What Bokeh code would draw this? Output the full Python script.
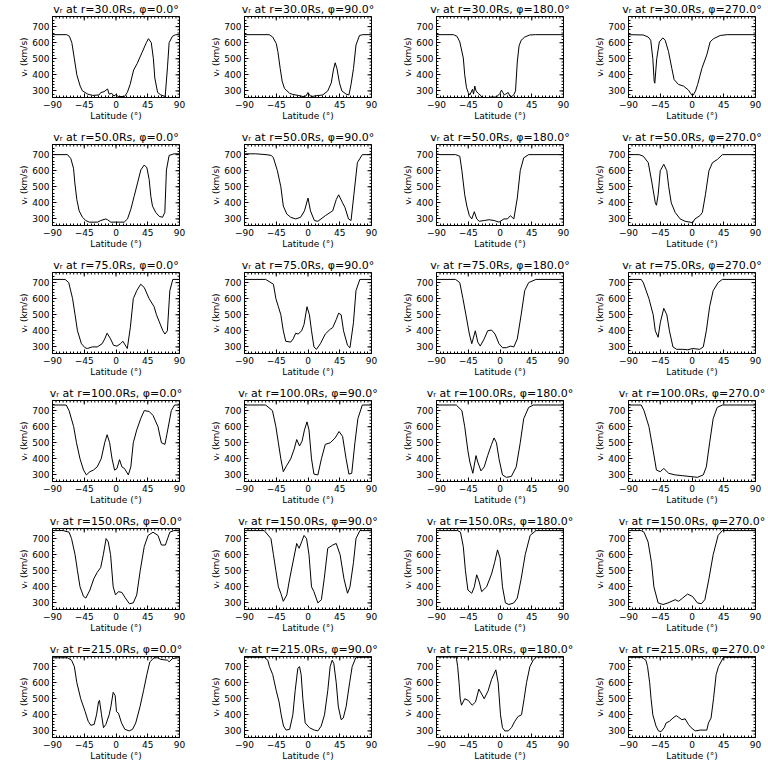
import math
from bokeh.plotting import figure
from bokeh.layouts import gridplot
from bokeh.models import Range1d, FixedTicker
from bokeh.embed import file_html
from bokeh.resources import INLINE

RADII = [30.0, 50.0, 75.0, 100.0, 150.0, 215.0]
PHIS = [0.0, 90.0, 180.0, 270.0]
X_TICKS = [-90, -45, 0, 45, 90]
X_MINOR = list(range(-90, 91, 5))
Y_TICKS = [300, 400, 500, 600, 700]
Y_MINOR = list(range(260, 761, 20))
X_LABEL = "Latitude (°)"
Y_LABEL = "vᵣ (km/s)"

# r = 30 Rs
lat_30_0 = [-90, -70, -66, -62.6, -59, -55.5, -50.8, -47.5, -40, -33, -24, -21.5, -17, -12, -9.7, -6, -3, 0, 3, 12, 16, 20, 25, 30, 37, 43, 46, 50, 53, 55, 59, 63.5, 69.7, 73, 75.3, 80, 84.6, 90]
v_30_0 = [650, 650, 640, 600, 500, 400, 330, 300, 280, 272, 275, 290, 295, 312, 280, 285, 268, 278, 265, 265, 290, 340, 430, 470, 540, 600, 625, 600, 500, 380, 290, 275, 265, 450, 600, 640, 650, 650]
lat_30_90 = [-90, -55, -50, -45, -42.7, -39.4, -36.6, -33.3, -26, -21.5, -14, -7, -3, 0, 2.5, 5, 11.6, 21, 28, 33, 36, 38.5, 41, 44.6, 48, 54, 58, 61, 64.5, 68, 73, 77.7, 90]
v_30_90 = [650, 650, 635, 595, 545, 440, 360, 315, 285, 278, 272, 265, 268, 290, 272, 265, 270, 275, 300, 350, 430, 475, 440, 350, 300, 280, 275, 340, 440, 585, 645, 650, 650]
lat_30_180 = [-90, -66, -61, -57, -52, -50, -47.5, -45, -42.7, -39, -37.5, -35.7, -34, -31, -27, -25, -20, -14, -5, 0, 2, 4, 6, 8, 11.6, 14, 17, 20, 22, 24.5, 27, 30, 35, 42, 50, 90]
v_30_180 = [650, 650, 640, 605, 505, 400, 320, 290, 275, 310, 280, 330, 300, 285, 270, 255, 250, 262, 262, 285, 305, 290, 275, 280, 290, 268, 265, 280, 300, 480, 580, 615, 635, 648, 650, 650]
lat_30_270 = [-90, -69, -62, -58.5, -55.5, -53.6, -52.7, -50, -46.3, -41.3, -38, -33.3, -28.6, -25.3, -19.1, -12, -5, -2, 0, 2, 5, 8, 14, 21, 25.7, 30.5, 40, 50, 90]
v_30_270 = [650, 648, 635, 615, 500, 360, 348, 500, 605, 630, 615, 545, 440, 370, 340, 330, 305, 285, 272, 275, 300, 340, 440, 525, 605, 625, 645, 650, 650]

# r = 50 Rs
lat_50_0 = [-90, -68.7, -64, -60.2, -58.3, -55.5, -52.2, -47.5, -42.8, -38, -26.2, -21.5, -14.4, -12, -7.3, 11.6, 16.3, 21, 25.7, 30.5, 35.2, 39.9, 43.7, 47, 49.4, 51.7, 56.4, 61.2, 65.9, 69.2, 71.5, 75.3, 82.4, 90]
v_50_0 = [700, 700, 675, 615, 523, 420, 350, 310, 290, 280, 280, 290, 300, 295, 280, 280, 300, 360, 440, 523, 605, 635, 620, 545, 440, 380, 340, 316, 310, 340, 605, 695, 705, 705]
lat_50_90 = [-90, -74, -59.5, -52, -49, -43.4, -38.5, -35, -30, -24.5, -17.5, -10.5, -5, 0, 3.5, 9, 14, 24.5, 31.5, 35, 40, 43.4, 49, 52.5, 57.4, 61, 65, 70, 77, 85, 90]
v_50_90 = [705, 705, 700, 695, 680, 600, 500, 380, 330, 310, 300, 310, 350, 430, 350, 290, 285, 320, 340, 350, 420, 450, 400, 370, 300, 290, 450, 650, 700, 700, 705]
lat_50_180 = [-90, -85, -63, -57, -54, -50, -47, -43.4, -40, -36.4, -33, -29.4, -22.4, -15.4, -8.4, -1.4, 5.6, 10.5, 14.7, 19.6, 24.5, 28.7, 33.6, 40.6, 90]
v_50_180 = [705, 700, 700, 690, 600, 450, 380, 320, 300, 345, 300, 285, 290, 295, 290, 280, 300, 300, 320, 300, 430, 600, 680, 700, 700]
lat_50_270 = [-90, -75, -69, -62, -57, -52, -50.4, -48, -45, -40, -35.7, -33, -29.4, -23.8, -16.8, -9.8, -2.8, 0.7, 4.2, 11.2, 14.7, 19, 24, 29, 36, 43, 90]
v_50_270 = [700, 700, 690, 650, 530, 400, 385, 450, 600, 640, 600, 500, 400, 340, 300, 285, 280, 275, 300, 320, 340, 450, 600, 650, 670, 700, 700]

# r = 75 Rs
lat_75_0 = [-90, -72, -67, -61.5, -58, -54.6, -49, -44, -40.6, -33.6, -26.6, -19.6, -16, -12.6, -7.7, -3.5, 1.4, 6.3, 9.8, 14.7, 16, 20.3, 24.5, 29.4, 35, 40, 47, 54, 57.4, 61, 66.5, 69.3, 72.8, 76.3, 80.5, 90]
v_75_0 = [720, 720, 700, 600, 500, 400, 320, 295, 290, 300, 300, 320, 350, 385, 350, 310, 305, 320, 335, 300, 290, 420, 600, 650, 690, 670, 600, 550, 500, 460, 400, 380, 400, 650, 720, 720]
lat_75_90 = [-90, -60, -49, -45.5, -42, -38.5, -35, -31.5, -24.5, -21, -17.5, -14, -9, -5.6, -1.4, 2, 5, 8.4, 12, 17.5, 24.5, 31.5, 35, 40, 43.4, 47, 50.4, 56, 59.5, 64.4, 68, 73.5, 90]
v_75_90 = [720, 720, 690, 600, 550, 500, 400, 335, 330, 350, 385, 380, 400, 440, 550, 500, 400, 300, 285, 320, 380, 410, 420, 470, 510, 500, 400, 310, 295, 450, 650, 720, 720]
lat_75_180 = [-90, -63, -57, -52.5, -48.3, -43.4, -40, -35, -31.5, -28, -22.4, -17.5, -12, -7, -1.4, 3.5, 9, 14.7, 19.6, 24.5, 30, 35, 40.6, 51, 90]
v_75_180 = [720, 720, 700, 600, 500, 380, 320, 400, 330, 305, 350, 400, 405, 380, 320, 295, 295, 305, 300, 350, 500, 650, 700, 720, 720]
lat_75_270 = [-90, -72, -69, -61, -55, -52, -48, -45, -40, -35.7, -32, -27, -21.7, -13, -6, 0.7, 11, 16, 20.3, 25, 30, 37, 43, 90]
v_75_270 = [720, 720, 700, 600, 500, 400, 360, 450, 540, 500, 400, 300, 285, 285, 282, 290, 285, 300, 400, 550, 650, 700, 720, 720]

# r = 100 Rs
lat_100_0 = [-90, -70.6, -66.5, -60, -56, -51, -46, -42, -37, -32, -26.6, -21, -16, -12.6, -9, -5.6, -2, 1.4, 5, 8.4, 12, 17.5, 21, 24.5, 29.4, 35, 40, 47, 52.5, 59.5, 64.4, 69.3, 72, 78.4, 83, 90]
v_100_0 = [735, 735, 700, 600, 500, 400, 330, 300, 320, 330, 350, 400, 500, 550, 500, 400, 330, 340, 395, 350, 340, 300, 350, 500, 580, 650, 700, 695, 670, 600, 500, 490, 550, 700, 735, 735]
lat_100_90 = [-90, -60, -50.4, -45.5, -42, -38.5, -35, -30, -24.5, -19.6, -16, -12, -8.4, -5, -1.4, 1.4, 5, 8.4, 14, 19, 24.5, 31.5, 38.5, 44, 49, 54, 58, 62, 66.5, 70.7, 77, 90]
v_100_90 = [735, 735, 700, 600, 500, 400, 320, 360, 400, 460, 520, 480, 510, 580, 630, 580, 400, 305, 300, 400, 490, 500, 530, 570, 540, 400, 305, 310, 500, 650, 735, 735]
lat_100_180 = [-90, -62, -54, -50, -45.5, -42.7, -38.5, -34, -31.5, -27, -22.4, -17.5, -12, -8.4, -5, -1.4, 3.5, 9, 16, 23, 28.7, 33.6, 40.6, 47.6, 90]
v_100_180 = [735, 735, 700, 600, 450, 380, 310, 420, 380, 325, 350, 420, 490, 530, 500, 400, 300, 285, 290, 350, 500, 650, 720, 735, 735]
lat_100_270 = [-90, -72, -68, -61, -55, -50.4, -45, -40, -33, -24, -13, -2.8, 7.7, 16, 20.3, 25, 30, 35.7, 43, 90]
v_100_270 = [735, 735, 700, 600, 450, 330, 320, 340, 310, 300, 295, 290, 285, 300, 350, 500, 650, 720, 735, 735]

# r = 150 Rs
lat_150_0 = [-90, -75, -66.5, -63, -58, -54.6, -51, -46, -42.7, -37, -31.5, -26.6, -21.7, -18, -14, -11, -7.7, -4, -0.7, 3.5, 8.4, 13.3, 19, 24.5, 29.4, 34.3, 40, 45.5, 52.5, 59.5, 64.4, 70, 76.3, 82, 90]
v_150_0 = [750, 750, 740, 700, 600, 500, 400, 340, 330, 380, 450, 490, 520, 600, 700, 680, 600, 400, 350, 370, 365, 330, 295, 300, 350, 500, 650, 720, 740, 720, 660, 660, 740, 750, 750]
lat_150_90 = [-90, -62, -52.5, -49, -45.5, -42, -38.5, -35, -30, -26, -21, -16, -12.6, -9, -5.6, -2, 1.4, 5, 8.4, 14, 19, 23, 28, 35, 40, 45.5, 51, 56, 59.5, 64.4, 68, 73.5, 90]
v_150_90 = [750, 750, 700, 600, 500, 400, 360, 310, 350, 450, 560, 670, 640, 680, 720, 700, 600, 400, 370, 300, 320, 450, 640, 660, 670, 600, 450, 360, 400, 550, 700, 750, 750]
lat_150_180 = [-90, -60, -56, -52, -49, -45.5, -40, -36.4, -33, -29.4, -26, -19, -12, -7.7, -3.5, 0, 3.5, 7.7, 12.6, 19.6, 24.5, 30, 35.7, 42.7, 51, 90]
v_150_180 = [750, 750, 740, 650, 500, 380, 360, 400, 475, 430, 370, 400, 480, 550, 630, 580, 400, 300, 290, 300, 330, 450, 600, 720, 750, 750]
lat_150_270 = [-90, -72, -68, -62.3, -57.4, -54, -48, -41, -34, -23.8, -19, -13.3, -6.3, 0.7, 7.7, 13.3, 18.2, 24, 30, 37, 43, 90]
v_150_270 = [750, 750, 740, 680, 550, 400, 300, 290, 300, 320, 310, 330, 355, 340, 300, 295, 320, 450, 600, 720, 750, 750]

# r = 215 Rs
lat_215_0 = [-90, -68.7, -63, -59, -55.5, -50, -43.7, -39.4, -35.7, -31, -27.6, -24.8, -23.4, -20.5, -17.7, -14.4, -9.7, -7.3, -4, -1.2, 0.7, 3.5, 7.8, 12.5, 18.7, 23.4, 28, 34, 39, 43.7, 48, 54, 59, 63.5, 73, 75.3, 80, 87, 90]
v_215_0 = [755, 755, 740, 700, 600, 500, 420, 360, 335, 340, 400, 480, 490, 400, 320, 340, 400, 450, 540, 520, 420, 410, 350, 310, 300, 310, 350, 450, 550, 650, 730, 755, 755, 745, 740, 730, 750, 755, 755]
lat_215_90 = [-90, -62, -57, -54.6, -50, -45, -41, -38, -34.7, -31, -26, -21.5, -18.2, -14.4, -12, -9.7, -7.3, -4, 2, 9, 14, 18.7, 23.4, 28, 31.4, 34.2, 36.6, 40, 43, 47, 50, 54, 59, 62.6, 68, 90]
v_215_90 = [758, 758, 740, 700, 650, 550, 480, 400, 330, 305, 310, 400, 550, 690, 700, 650, 500, 350, 320, 305, 300, 330, 400, 550, 700, 740, 720, 600, 450, 370, 380, 450, 600, 700, 758, 758]
lat_215_180 = [-90, -62, -60, -58, -56.4, -54.6, -50, -45, -39.4, -34.7, -30, -26, -22.4, -16.8, -12, -5.9, -2.6, 0.7, 3.5, 6.8, 11.6, 16.3, 21, 25.7, 30.5, 34.2, 37.6, 42.3, 47, 51.7, 90]
v_215_180 = [760, 760, 700, 600, 500, 460, 500, 490, 460, 480, 560, 530, 500, 550, 620, 680, 600, 400, 320, 300, 300, 320, 360, 390, 400, 500, 600, 700, 740, 760, 760]
lat_215_270 = [-90, -70, -68.7, -65.4, -63, -60, -58, -55.5, -51, -47.5, -44, -39.4, -36.6, -31.9, -27, -22.4, -19, -14.4, -9.7, -5, -1.2, 4.5, 11.6, 21, 23.4, 27, 30.5, 34.2, 37.5, 44.6, 90]
v_215_270 = [758, 758, 750, 740, 700, 600, 500, 400, 330, 300, 295, 320, 350, 360, 380, 395, 385, 370, 375, 340, 320, 300, 305, 305, 350, 380, 500, 650, 700, 758, 758]

PANELS = [
    [(lat_30_0, v_30_0), (lat_30_90, v_30_90), (lat_30_180, v_30_180), (lat_30_270, v_30_270)],
    [(lat_50_0, v_50_0), (lat_50_90, v_50_90), (lat_50_180, v_50_180), (lat_50_270, v_50_270)],
    [(lat_75_0, v_75_0), (lat_75_90, v_75_90), (lat_75_180, v_75_180), (lat_75_270, v_75_270)],
    [(lat_100_0, v_100_0), (lat_100_90, v_100_90), (lat_100_180, v_100_180), (lat_100_270, v_100_270)],
    [(lat_150_0, v_150_0), (lat_150_90, v_150_90), (lat_150_180, v_150_180), (lat_150_270, v_150_270)],
    [(lat_215_0, v_215_0), (lat_215_90, v_215_90), (lat_215_180, v_215_180), (lat_215_270, v_215_270)],
]

FONT = "DejaVu Sans"
X0, X1 = -90, 90
Y0, Y1 = 259, 763
PANEL_W, PANEL_H = 192, 128
B_LEFT, B_RIGHT, B_TOP, B_BOTTOM = 52, 13, 14, 31


def style_axis(ax):
    ax.major_tick_in = 4
    ax.major_tick_out = 0
    ax.minor_tick_in = 2
    ax.minor_tick_out = 0
    ax.axis_line_color = "black"
    ax.major_tick_line_color = "black"
    ax.minor_tick_line_color = "black"
    ax.major_label_text_font = FONT
    ax.major_label_text_color = "black"
    ax.major_label_text_font_size = "9px"
    ax.axis_label_text_font = FONT
    ax.axis_label_text_font_style = "normal"
    ax.axis_label_text_color = "black"
    ax.axis_label_text_font_size = "9px"


rows = []
for r, rad in enumerate(RADII):
    row = []
    for c, phi in enumerate(PHIS):
        lat, v = PANELS[r][c]
        p = figure(width=PANEL_W, height=PANEL_H,
                   x_range=Range1d(X0, X1), y_range=Range1d(Y0, Y1),
                   output_backend="svg", toolbar_location=None)
        p.min_border_left = B_LEFT
        p.min_border_right = B_RIGHT
        p.min_border_top = B_TOP
        p.min_border_bottom = B_BOTTOM
        p.xgrid.visible = False
        p.ygrid.visible = False
        p.outline_line_color = "black"
        p.outline_line_width = 1
        p.background_fill_color = "white"
        p.border_fill_color = "white"

        p.title.text = "vᵣ at r=%.1fRs, φ=%.1f°" % (rad, phi)
        p.title.align = "center"
        p.title.text_font = FONT
        p.title.text_font_size = "11px"
        p.title.text_font_style = "normal"
        p.title.text_color = "black"
        p.title.text_line_height = 0.8
        p.title.standoff = 1
        p.title.offset = 0

        p.xaxis.ticker = FixedTicker(ticks=X_TICKS, minor_ticks=X_MINOR)
        p.yaxis.ticker = FixedTicker(ticks=Y_TICKS, minor_ticks=Y_MINOR)
        p.xaxis.major_label_overrides = {-90: "−90", -45: "−45", 0: "0", 45: "45", 90: "90"}
        p.xaxis.axis_label = X_LABEL
        p.yaxis.axis_label = Y_LABEL
        for ax in p.xaxis:
            style_axis(ax)
            ax.major_label_standoff = 3
            ax.axis_label_standoff = 0
        for ax in p.yaxis:
            style_axis(ax)
            ax.major_label_standoff = 3
            ax.axis_label_standoff = 0

        # mirrored inward ticks on the top and right edges of the box
        p.scatter([X1] * len(Y_TICKS), Y_TICKS, marker="dash", size=8,
                  line_color="black", line_width=1)
        p.scatter([X1] * len(Y_MINOR), Y_MINOR, marker="dash", size=4,
                  line_color="black", line_width=1)
        p.scatter(X_TICKS, [Y1] * len(X_TICKS), marker="dash", size=8,
                  angle=math.pi / 2, line_color="black", line_width=1)
        p.scatter(X_MINOR, [Y1] * len(X_MINOR), marker="dash", size=4,
                  angle=math.pi / 2, line_color="black", line_width=1)

        p.line(lat, v, line_color="black", line_width=1)
        row.append(p)
    rows.append(row)

grid = gridplot(rows, toolbar_location=None)
open("out.html", "w").write(file_html(grid, INLINE))
